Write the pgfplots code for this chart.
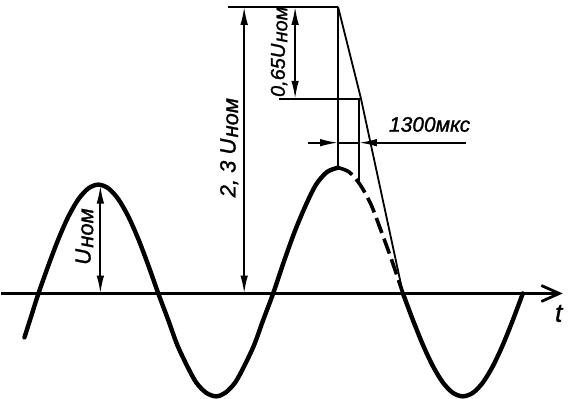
\documentclass[border=0pt]{standalone}
\usepackage{fontspec}
\setmainfont{Liberation Sans}
\newfontfamily\gost{Liberation Sans}[FakeBold=1.3]
\usepackage{pgfplots}
\pgfplotsset{compat=1.18}
\usetikzlibrary{arrows.meta}
\newcommand{\unom}{U\kern0.6pt\raisebox{-0.12em}{ном}}
\tikzset{
  dim/.style={black, line width=0.9pt},
  >={Latex[length=9pt,width=3.8pt]},
}
\begin{document}
\begin{tikzpicture}
\begin{axis}[
  width=284.5pt, height=201.5pt, scale only axis,
  xmin=0, xmax=569, ymin=0, ymax=403, y dir=reverse,
  hide axis, clip=false,
]
% time axis
\addplot[black, line width=1.5pt, -{Straight Barb[length=9pt,width=8pt,line width=1.4pt]}]
  coordinates {(5,293)(567,293)};
% voltage curve, solid part
\addplot[black, line width=2.2pt, line cap=round, line join=round, smooth] coordinates {
(28,337)(35,315)(42,293)
(52,264.8)(62,238.5)(72,215.9)(82,198.6)(92,187.7)(102,184)
(112,187.7)(122,198.6)(132,215.9)(142,238.5)(152,264.8)(162,293)
(172,319.7)(181,344.5)(191,365.8)(200,382.2)(210,392.5)(220,396)
(229,392.5)(239,382.2)(248,365.8)(258,344.5)(267,319.7)(277,293)
(288,260.4)(299,230)(310,203.9)(320,183.9)(331,171.3)(342,167)};
% dashed continuation after the cut-off
\addplot[black, line width=1.8pt, dash pattern=on 8pt off 3pt, smooth] coordinates {
(342,167)(353,171.3)(364,183.9)(375,203.9)(385,230)(396,260.4)(407,293)};
\addplot[black, line width=2.2pt, line cap=round, line join=round, smooth] coordinates {
(407,293)(417,319.7)(427,344.5)(437,365.8)(447,382.2)(457,392.5)(467,396)
(477,392.5)(487,382.2)(497,365.8)(507,344.5)(517,319.7)(527,293)};
% construction lines
\addplot[dim] coordinates {(232,6)(342,6)};
\addplot[dim] coordinates {(342,6)(342,167)};
\addplot[dim] coordinates {(342,6)(365,98)(407,293)};
\addplot[dim] coordinates {(283,98)(365,98)};
\addplot[dim] coordinates {(363,98)(363,182)};
% dimension arrows
\addplot[dim, <->] coordinates {(299,6)(299,98)};
\addplot[dim, <->] coordinates {(248,6)(248,293)};
\addplot[dim, <->] coordinates {(104,185)(104,293)};
\addplot[dim, ->] coordinates {(312,142)(342,142)};
\addplot[dim] coordinates {(342,142)(363,142)};
\addplot[dim, ->] coordinates {(470,142)(363,142)};
% labels
\node[rotate=90, font=\gost\fontsize{10}{12}\selectfont\itshape] at (axis cs:283,51) {0,65\unom};
\node[rotate=90, font=\gost\fontsize{11}{13}\selectfont\itshape] at (axis cs:233,147) {2,~3~\unom};
\node[rotate=90, font=\gost\fontsize{11}{13}\selectfont\itshape] at (axis cs:88,236) {\unom};
\node[anchor=base west, font=\gost\fontsize{10.5}{12}\selectfont\itshape] at (axis cs:386,131) {1300мкс};
\node[font=\gost\fontsize{13}{15}\selectfont\itshape] at (axis cs:563,313) {t};
\end{axis}
\end{tikzpicture}
\end{document}
